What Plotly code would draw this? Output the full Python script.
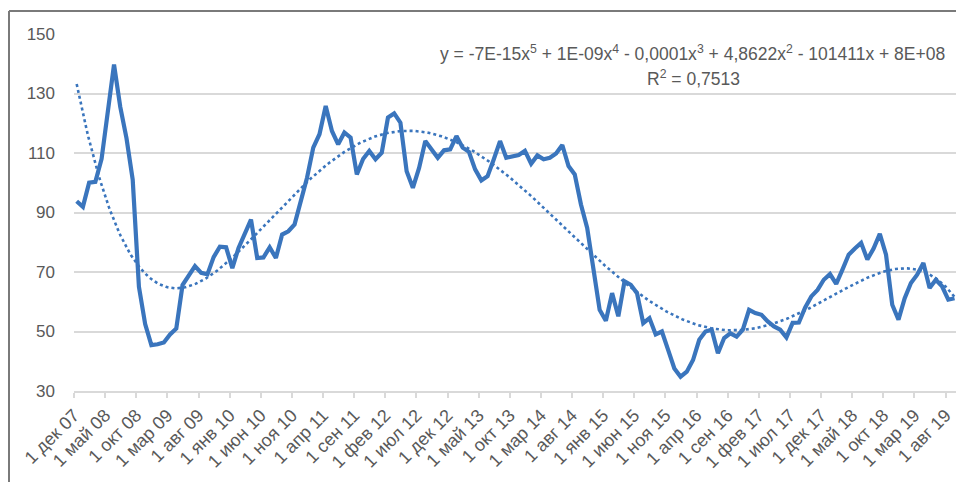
import numpy as np
import plotly.graph_objects as go

# Tick labels (every 5 months starting Dec 2007)
tick_labels = ["1 дек 07", "1 май 08", "1 окт 08", "1 мар 09", "1 авг 09", "1 янв 10",
               "1 июн 10", "1 ноя 10", "1 апр 11", "1 сен 11", "1 фев 12", "1 июл 12",
               "1 дек 12", "1 май 13", "1 окт 13", "1 мар 14", "1 авг 14", "1 янв 15",
               "1 июн 15", "1 ноя 15", "1 апр 16", "1 сен 16", "1 фев 17", "1 июл 17",
               "1 дек 17", "1 май 18", "1 окт 18", "1 мар 19", "1 авг 19"]
tick_months = [0, 5, 10, 15, 20, 25, 30, 35, 40, 45, 50, 55, 60, 65, 70, 75, 80, 85,
               90, 95, 100, 105, 110, 115, 120, 125, 130, 135, 140]

# Monthly values, Dec 2007 .. Sep 2019
values = [93.8, 91.9, 100, 100.3, 108, 124.5, 139.7, 125.5, 115, 101,
          65, 52.5, 45.4, 45.7, 46.3, 49, 51, 65.6, 69, 72,
          69.7, 69.2, 75, 78.5, 78.3, 71.3, 78.1, 83.1, 87.6, 74.7,
          74.9, 78.3, 74.7, 82.6, 83.7, 86, 93.8, 101.7, 111.8, 116.3,
          125.8, 117.4, 112.9, 116.9, 115.2, 102.8, 108, 110.7, 107.9, 110.1,
          121.9, 123.3, 120.2, 103.9, 98.3, 105, 114, 111.2, 108.4, 110.9,
          111.2, 115.7, 111.8, 110.4, 104.5, 100.8, 102.2, 107.9, 114, 108.4,
          108.9, 109.3, 110.7, 106.4, 109.2, 107.9, 108.4, 109.8, 112.7, 105.6,
          102.8, 92.7, 84.8, 70.2, 57.3, 53.6, 62.9, 55.1, 66.9, 65.7,
          62.9, 52.8, 54.5, 49, 50, 43.8, 37.6, 34.8, 36.5, 40.4,
          47.2, 50, 50.6, 42.7, 47.8, 49.4, 48.3, 50.6, 57.3, 56.2,
          55.6, 53.4, 51.7, 50.6, 48, 52.9, 53, 58, 61.8, 64,
          67.4, 69.3, 66, 70.8, 75.8, 77.9, 79.8, 74.2, 77.9, 82.8,
          75.8, 59, 54, 61.2, 66.3, 69.1, 73, 64.6, 67.4, 65.2,
          60.7, 61.2]

eq_text = "y = -7E-15x<sup>5</sup> + 1E-09x<sup>4</sup> - 0,0001x<sup>3</sup> + 4,8622x<sup>2</sup> - 101411x + 8E+08"
r2_text = "R<sup>2</sup> = 0,7513"

color = "#3a75bd"
offset = 0.43  # data points sit slightly after the month tick
x = np.arange(len(values)) + offset
y = np.array(values)

# 5th-order polynomial trendline (as the spreadsheet computes it)
xm, xs = x.mean(), x.std()
coef = np.polyfit((x - xm) / xs, y, 5)
xt = np.linspace(x[0], x[-1], 600)
yt = np.polyval(coef, (xt - xm) / xs)

fig = go.Figure()
fig.add_trace(go.Scatter(x=x, y=y, mode="lines",
                         line=dict(color=color, width=4.2), showlegend=False))
fig.add_trace(go.Scatter(x=xt, y=yt, mode="lines",
                         line=dict(color=color, width=2.6, dash="dot"), showlegend=False))

# page body has an 8px margin, so the figure is 8px smaller and offset
W, H = 956, 474
L, T, R, B = 66, 26, 7, 91
pw, ph = W - L - R, H - T - B

font_col = "#595959"
fig.update_layout(
    width=W, height=H,
    margin=dict(l=L, r=R, t=T, b=B),
    paper_bgcolor="white", plot_bgcolor="white",
    font=dict(family="Liberation Sans, Arial, sans-serif", color=font_col, size=17),
    xaxis=dict(range=[0, 141.83], tickmode="array", tickvals=tick_months,
               ticktext=tick_labels, tickangle=-45, showgrid=False, zeroline=False,
               showline=True, linecolor="#d9d9d9", linewidth=1.5,
               ticks="outside", ticklen=5, tickcolor="#d9d9d9", tickwidth=1.5,
               tickfont=dict(size=18, color=font_col)),
    yaxis=dict(range=[30, 150], tickmode="array", tickvals=[30, 50, 70, 90, 110, 130, 150],
               showgrid=True, gridcolor="#d9d9d9", gridwidth=1.5, zeroline=False,
               showline=False, ticks="", ticklabelstandoff=18,
               tickfont=dict(size=17, color=font_col)),
    annotations=[
        dict(text=eq_text, xref="paper", yref="paper", x=(692 - 74) / pw, y=(391 - 53) / ph,
             xanchor="center", yanchor="middle", showarrow=False,
             font=dict(size=17.5, color=font_col)),
        dict(text=r2_text, xref="paper", yref="paper", x=(693 - 74) / pw, y=(391 - 78) / ph,
             xanchor="center", yanchor="middle", showarrow=False,
             font=dict(size=17.5, color=font_col)),
    ],
    shapes=[
        dict(type="line", xref="paper", yref="paper", x0=(9 - 74) / pw, x1=(9 - 74) / pw,
             y0=(391 - 11) / ph, y1=-0.4, line=dict(color="#7a7a7a", width=2)),
        dict(type="line", xref="paper", yref="paper", x0=(9 - 74) / pw, x1=1.2,
             y0=(391 - 11) / ph, y1=(391 - 11) / ph, line=dict(color="#7a7a7a", width=2)),
    ],
)

fig.write_html("out.html")
